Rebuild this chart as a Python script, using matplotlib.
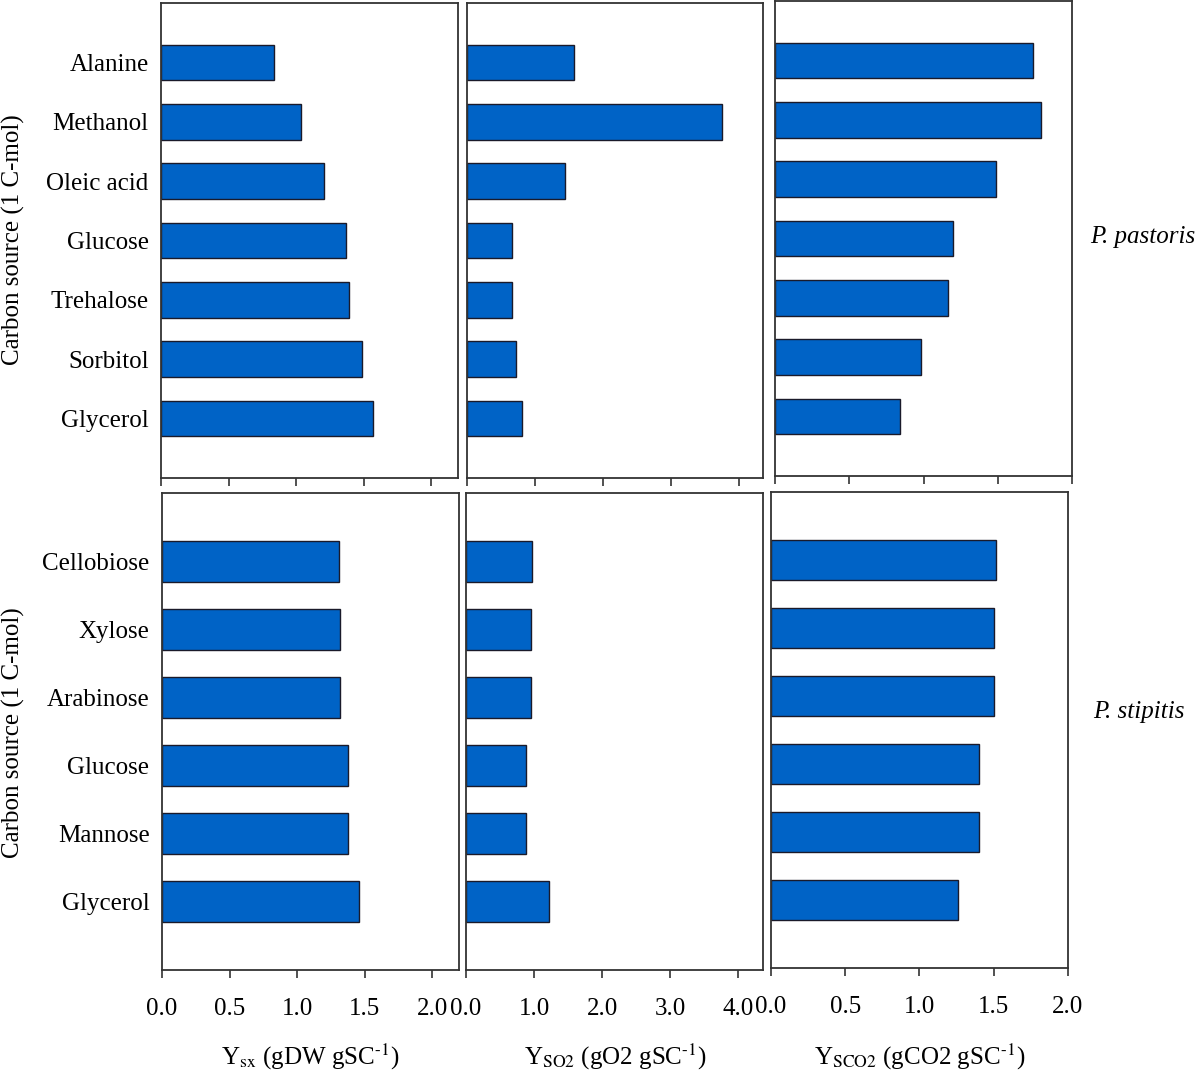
import numpy as np
import matplotlib
matplotlib.use("Agg")
import matplotlib.pyplot as plt

plt.rcParams['font.family'] = ['Liberation Serif', 'DejaVu Serif']
plt.rcParams['mathtext.fontset'] = 'stix'

# P. pastoris (top row)
pp_sources = ['Alanine', 'Methanol', 'Oleic acid', 'Glucose', 'Trehalose', 'Sorbitol', 'Glycerol']
pp_ysx = [0.84, 1.04, 1.21, 1.37, 1.39, 1.49, 1.57]
pp_yso2 = [1.58, 3.76, 1.44, 0.66, 0.66, 0.72, 0.81]
pp_ysco2 = [1.74, 1.79, 1.49, 1.20, 1.165, 0.98, 0.84]

# P. stipitis (bottom row)
ps_sources = ['Cellobiose', 'Xylose', 'Arabinose', 'Glucose', 'Mannose', 'Glycerol']
ps_ysx = [1.31, 1.315, 1.32, 1.38, 1.38, 1.46]
ps_yso2 = [0.97, 0.96, 0.96, 0.88, 0.88, 1.215]
ps_ysco2 = [1.515, 1.50, 1.50, 1.40, 1.40, 1.26]

xlims = [(0, 2.2), (0, 4.36), (0, 2.0)]
xticks = [[0, 0.5, 1.0, 1.5, 2.0], [0, 1, 2, 3, 4], [0, 0.5, 1.0, 1.5, 2.0]]
xlabels = [r'Y$_{\mathrm{sx}}$ (gDW gSC$^{\text{-1}}$)',
           r'Y$_{\mathrm{SO2}}$ (gO2 gSC$^{\text{-1}}$)',
           r'Y$_{\mathrm{SCO2}}$ (gCO2 gSC$^{\text{-1}}$)']
xlabel_x = [310, 615, 920]

BAR_COLOR = '#0063c6'
FS = 18
W, H = 1200, 1078

fig = plt.figure(figsize=(W / 100, H / 100), dpi=100)

# axes boxes in pixels: (left, top, right, bottom)
boxes = [
    [(161, 3, 458, 478), (467, 3, 763, 478), (775, 1, 1072, 476)],
    [(162, 493, 459, 970), (466, 493, 763, 970), (771, 492, 1068, 968)],
]

rows = [(pp_sources, [pp_ysx, pp_yso2, pp_ysco2]),
        (ps_sources, [ps_ysx, ps_yso2, ps_ysco2])]

for r, (sources, series) in enumerate(rows):
    y = np.arange(len(sources))
    for c in range(3):
        l, t, rr, b = boxes[r][c]
        ax = fig.add_axes([l / W, 1 - b / H, (rr - l) / W, (b - t) / H])
        ax.barh(y, series[c], height=0.6, color=BAR_COLOR,
                edgecolor='#1a1a2a', linewidth=1.0)
        ax.set_ylim(len(sources), -1)
        ax.set_xlim(*xlims[c])
        ax.set_xticks(xticks[c])
        if c == 1:
            ax.set_xticklabels(['0.0', '1.0', '2.0', '3.0', '4.0'])
        else:
            ax.set_xticklabels(['%.1f' % v for v in xticks[c]])
        ax.tick_params(axis='x', direction='out', length=6, width=1.2,
                       color='#333333', labelsize=FS, pad=14)
        if r == 0:
            ax.tick_params(axis='x', labelbottom=False)
        if c == 0:
            ax.set_yticks(y)
            ax.set_yticklabels(sources, fontsize=FS)
            ax.tick_params(axis='y', length=0, pad=9)
        else:
            ax.set_yticks([])
        for s in ax.spines.values():
            s.set_linewidth(1.3)
            s.set_color('#333333')

for c in range(3):
    fig.text(xlabel_x[c] / W, 1 - 1057 / H, xlabels[c], ha='center',
             va='center', fontsize=FS)

fig.text(13 / W, 1 - 240 / H, 'Carbon source (1 C-mol)', rotation=90,
         ha='center', va='center', fontsize=FS)
fig.text(13 / W, 1 - 733 / H, 'Carbon source (1 C-mol)', rotation=90,
         ha='center', va='center', fontsize=FS)
fig.text(1090 / W, 1 - 237 / H, 'P. pastoris', style='italic',
         ha='left', va='center', fontsize=FS)
fig.text(1093 / W, 1 - 712 / H, 'P. stipitis', style='italic',
         ha='left', va='center', fontsize=FS)

fig.savefig('out.png', dpi=100, facecolor='white')
